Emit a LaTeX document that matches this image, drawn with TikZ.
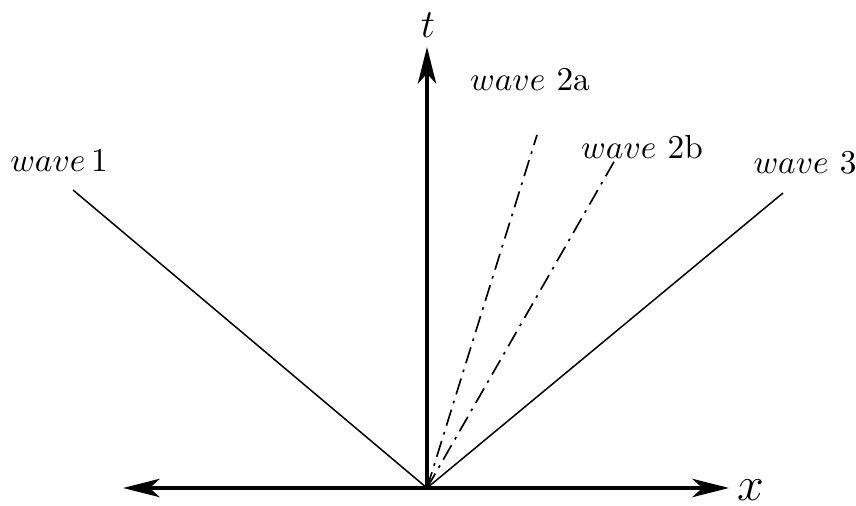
\documentclass[tikz,border=0pt]{standalone}
\usepackage{tikz}
\usetikzlibrary{arrows.meta, positioning}
\tikzset{
  axis/.style  = {-{Stealth[length=11pt, width=5.5pt, inset=3pt]}, line width=1.1pt},
  front/.style = {line width=0.45pt},
  fan/.style   = {line width=0.5pt, dash pattern=on 5pt off 2pt on 0.8pt off 2pt},
  lbl/.style   = {inner sep=1pt},
}

\begin{document}
\begin{tikzpicture}[x=0.3pt, y=0.3pt]
    \useasboundingbox (-427,-18) rectangle (429,488);

    % axes
    \coordinate (o)  at (0,0);
    \coordinate (xl) at (-304,0);
    \coordinate (xr) at (302,0);
    \coordinate (tt) at (0,441);
    \draw[axis] (o) -- (xl);
    \draw[axis] (o) -- (xr);
    \draw[axis] (o) -- (tt);
    \node[lbl, anchor=west] (xlab) at (306,-2) {\Large $x$};
    \node[lbl] (tlab) at (1,463) {\large $t$};

    % waves
    \coordinate (w1)  at (-354,298);
    \coordinate (w2a) at (110,353);
    \coordinate (w2b) at (188,328);
    \coordinate (w3)  at (356,295);
    \draw[front] (o) -- (w1);
    \draw[fan]   (o) -- (w2a);
    \draw[fan]   (o) -- (w2b);
    \draw[front] (o) -- (w3);

    \node[lbl] (l1)  at (-368,328) {$wave$\,1};
    \node[lbl] (l2a) at (103,408)  {$wave$~2a};
    \node[lbl] (l2b) at (215,341)  {$wave$~2b};
    \node[lbl] (l3)  at (378,325)  {$wave$~3};
\end{tikzpicture}
\end{document}
